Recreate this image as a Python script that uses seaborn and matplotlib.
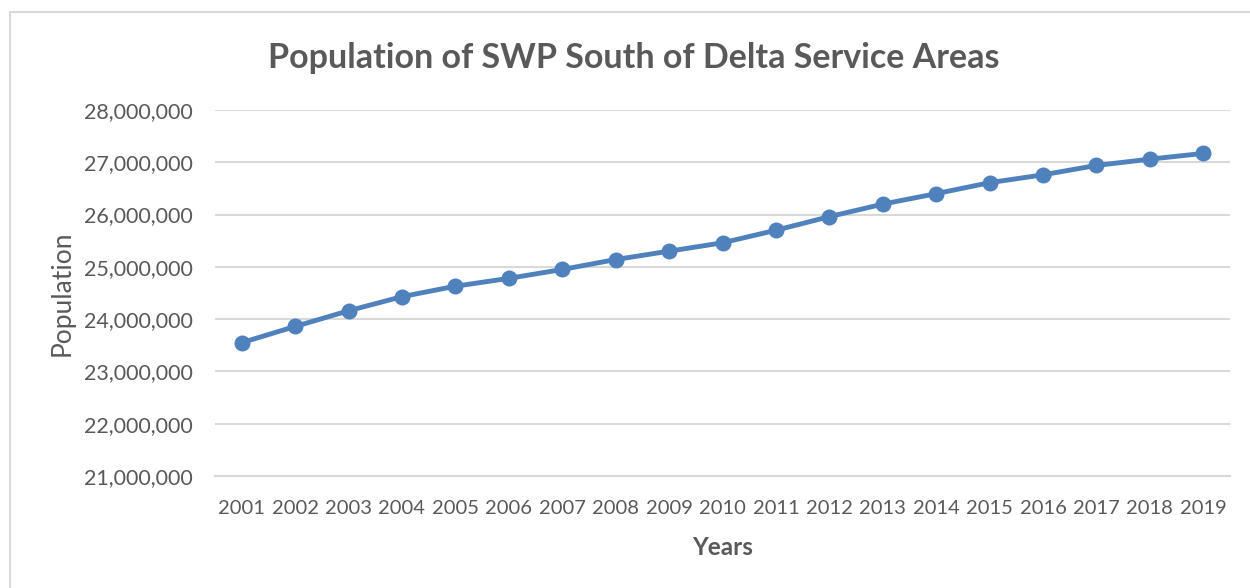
import matplotlib
matplotlib.use('Agg')
import pandas as pd
import seaborn as sns
import matplotlib.pyplot as plt
from matplotlib.ticker import FuncFormatter, FixedLocator
from matplotlib.patches import Rectangle

years = ['2001', '2002', '2003', '2004', '2005', '2006', '2007', '2008', '2009', '2010',
         '2011', '2012', '2013', '2014', '2015', '2016', '2017', '2018', '2019']
population = [23550000, 23860000, 24160000, 24430000, 24630000, 24780000, 24950000,
              25140000, 25300000, 25460000, 25700000, 25960000, 26200000, 26400000,
              26610000, 26760000, 26940000, 27060000, 27170000]
y_ticks = [21000000, 22000000, 23000000, 24000000, 25000000, 26000000, 27000000, 28000000]

TEXT = '#595959'
GRID = '#D9D9D9'
LINE = '#4F81BD'

sns.set_style('white')
plt.rcParams['font.family'] = ['Lato', 'DejaVu Sans']

df = pd.DataFrame({'Year': years, 'Population': population})

fig = plt.figure(figsize=(12.5, 5.88), dpi=100)
ax = fig.add_axes([215 / 1250, 1 - 476 / 588, (1230 - 215) / 1250, (476 - 110) / 588])

sns.lineplot(data=df, x='Year', y='Population', color=LINE, linewidth=3.5,
             marker='o', markersize=11.5, markeredgewidth=0, ax=ax, zorder=3)

ax.set_xlim(-0.5, len(years) - 0.5)
ax.set_ylim(y_ticks[0], y_ticks[-1])
ax.yaxis.set_major_locator(FixedLocator(y_ticks))
ax.yaxis.set_major_formatter(FuncFormatter(lambda v, p: f'{int(v):,}'))
ax.grid(axis='y', color=GRID, linewidth=1.5)
ax.set_axisbelow(True)

# category boundary ticks like Excel
ax.set_xticks(range(len(years)))
ax.set_xticklabels(years)
ax.tick_params(axis='x', which='major', length=0, pad=17, labelsize=14.5, labelcolor=TEXT)
ax.set_xticks([i - 0.5 for i in range(len(years) + 1)], minor=True)
ax.tick_params(axis='x', which='minor', length=8, width=1.5, color=GRID, direction='inout')
ax.tick_params(axis='y', length=0, pad=16, labelsize=15.5, labelcolor=TEXT)

for s in ['top', 'right', 'left']:
    ax.spines[s].set_visible(False)
ax.spines['bottom'].set_color(GRID)
ax.spines['bottom'].set_linewidth(1.5)

ax.set_xlabel('Years', fontsize=17.5, fontweight='bold', color=TEXT, labelpad=14)
ax.set_ylabel('Population', fontsize=19, color=TEXT, labelpad=7)

fig.text(634 / 1250, 1 - 58 / 588, 'Population of SWP South of Delta Service Areas',
         ha='center', va='center', fontsize=24.5, fontweight='bold', color=TEXT)

# chart-area border (top/left visible)
fig.patches.append(Rectangle((10 / 1250, -0.05), 1.2, 1 - 12 / 588 + 0.05,
                             transform=fig.transFigure, fill=False,
                             edgecolor=GRID, linewidth=1.5))

fig.savefig('out.png', dpi=100)
